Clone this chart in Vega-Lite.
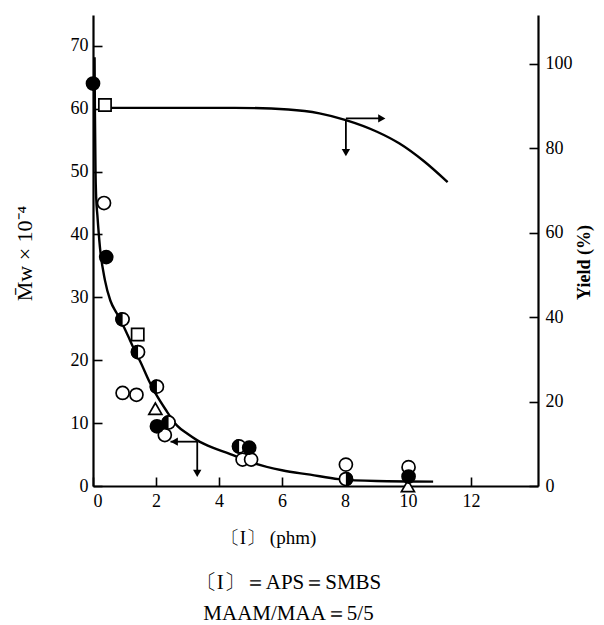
{
  "$schema": "https://vega.github.io/schema/vega-lite/v6.json",
  "autosize": "none",
  "width": 445,
  "height": 471,
  "padding": {"left": 93, "top": 15, "right": 66, "bottom": 139},
  "background": "white",
  "config": {
    "view": {"stroke": null},
    "axis": {
      "domainColor": "black", "domainWidth": 2.2, "tickColor": "black", "tickWidth": 1.6,
      "grid": false, "labelFont": "Liberation Serif", "labelFontSize": 18, "labelColor": "black",
      "titleFont": "Liberation Serif", "titleColor": "black", "titleFontWeight": "normal"
    }
  },
  "title": {
    "text": "〔I〕＝APS＝SMBS",
    "subtitle": "MAAM/MAA＝5/5",
    "orient": "bottom", "anchor": "middle", "frame": "group", "dx": -27, "offset": 25,
    "font": "Liberation Serif", "fontSize": 21, "fontWeight": "normal", "color": "black",
    "subtitleFont": "Liberation Serif", "subtitleFontSize": 21, "subtitleColor": "black", "subtitlePadding": 10
  },
  "datasets": {
    "mwCurve": [
      {"x": 0.05, "mw": 68.2}, {"x": 0.06, "mw": 60}, {"x": 0.08, "mw": 50}, {"x": 0.1, "mw": 46},
      {"x": 0.14, "mw": 43}, {"x": 0.22, "mw": 38}, {"x": 0.38, "mw": 32.7}, {"x": 0.55, "mw": 29.5},
      {"x": 0.75, "mw": 27.5}, {"x": 0.95, "mw": 25.6}, {"x": 1.1, "mw": 24}, {"x": 1.3, "mw": 21.8},
      {"x": 1.5, "mw": 19.8}, {"x": 1.8, "mw": 16.5}, {"x": 2.0, "mw": 14.6}, {"x": 2.3, "mw": 12.2},
      {"x": 2.67, "mw": 9.6}, {"x": 3.0, "mw": 8.3}, {"x": 3.3, "mw": 7.3}, {"x": 3.8, "mw": 6.1},
      {"x": 4.3, "mw": 5.2}, {"x": 5.0, "mw": 3.8}, {"x": 6.0, "mw": 2.5}, {"x": 6.9, "mw": 1.8},
      {"x": 7.8, "mw": 1.1}, {"x": 9.0, "mw": 0.8}, {"x": 10.8, "mw": 0.7}
    ],
    "yieldCurve": [
      {"x": 0.4, "yield": 89.6}, {"x": 4.5, "yield": 89.6}, {"x": 6.2, "yield": 89.2}, {"x": 7.19, "yield": 88.3},
      {"x": 8.03, "yield": 86.7}, {"x": 9.0, "yield": 84.0}, {"x": 9.72, "yield": 81.2}, {"x": 10.5, "yield": 77.0},
      {"x": 11.26, "yield": 72.0}
    ],
    "points": [
      {"x": 0.0, "mw": 64.0, "type": "filled"},
      {"x": 0.38, "mw": 60.6, "type": "square"},
      {"x": 0.35, "mw": 45.0, "type": "open"},
      {"x": 0.42, "mw": 36.4, "type": "filled"},
      {"x": 0.94, "mw": 26.5, "type": "half"},
      {"x": 1.42, "mw": 24.1, "type": "square"},
      {"x": 1.43, "mw": 21.3, "type": "half"},
      {"x": 0.94, "mw": 14.8, "type": "open"},
      {"x": 1.38, "mw": 14.5, "type": "open"},
      {"x": 2.03, "mw": 15.8, "type": "half"},
      {"x": 1.98, "mw": 12.3, "type": "triangle"},
      {"x": 2.28, "mw": 8.1, "type": "open"},
      {"x": 2.03, "mw": 9.5, "type": "filled"},
      {"x": 2.4, "mw": 10.1, "type": "half"},
      {"x": 4.75, "mw": 4.2, "type": "open"},
      {"x": 5.02, "mw": 4.2, "type": "open"},
      {"x": 4.64, "mw": 6.3, "type": "half"},
      {"x": 4.96, "mw": 6.1, "type": "filled"},
      {"x": 8.03, "mw": 3.4, "type": "open"},
      {"x": 8.03, "mw": 1.1, "type": "halfR"},
      {"x": 10.02, "mw": 3.0, "type": "open"},
      {"x": 10.02, "mw": 1.5, "type": "filled"},
      {"x": 10.0, "mw": 0.0, "type": "triangle"}
    ],
    "mwArrows": [
      {"x": 2.46, "mw": 7.05, "x2": 3.31, "mw2": 7.05},
      {"x": 3.31, "mw": 7.05, "x2": 3.31, "mw2": 2.2}
    ],
    "mwHeads": [
      {"x": 2.58, "mw": 7.05, "dir": "left"},
      {"x": 3.31, "mw": 2.0, "dir": "down"}
    ],
    "yieldArrows": [
      {"x": 8.03, "yield": 87.1, "x2": 9.1, "yield2": 87.1},
      {"x": 8.03, "yield": 86.7, "x2": 8.03, "yield2": 79.5}
    ],
    "yieldHeads": [
      {"x": 9.17, "yield": 87.1, "dir": "right"},
      {"x": 8.03, "yield": 79.0, "dir": "down"}
    ]
  },
  "layer": [
    {
      "layer": [
        {
          "data": {"name": "yieldCurve"},
          "mark": {"type": "line", "color": "black", "strokeWidth": 2.4, "interpolate": "monotone"},
          "encoding": {
            "x": {"field": "x", "type": "quantitative", "scale": {"domain": [0, 14.13], "nice": false},
                  "axis": {"values": [0, 2, 4, 6, 8, 10, 12], "tickSize": -9, "labelPadding": 15,
                           "title": "〔I〕 (phm)", "titleFontSize": 19, "titleX": 175, "titleY": 42}},
            "y": {"field": "yield", "type": "quantitative", "scale": {"domain": [0, 111.6], "nice": false},
                  "axis": {"orient": "right", "values": [0, 20, 40, 60, 80, 100], "tickSize": -9, "labelPadding": 16,
                           "title": "Yield (%)", "titleFontSize": 18, "titleFontWeight": "bold", "titleAngle": 270,
                           "titleX": 46, "titleY": 247, "titleAlign": "center", "titleBaseline": "middle"}}
          }
        },
        {
          "data": {"name": "yieldArrows"},
          "mark": {"type": "rule", "color": "black", "strokeWidth": 1.8},
          "encoding": {
            "x": {"field": "x", "type": "quantitative"},
            "y": {"field": "yield", "type": "quantitative"},
            "x2": {"field": "x2"},
            "y2": {"field": "yield2"}
          }
        },
        {
          "data": {"name": "yieldHeads"},
          "transform": [{"filter": "datum.dir === 'right'"}],
          "mark": {"type": "point", "shape": "triangle-right", "filled": true, "color": "black", "size": 70, "opacity": 1},
          "encoding": {
            "x": {"field": "x", "type": "quantitative"},
            "y": {"field": "yield", "type": "quantitative"}
          }
        },
        {
          "data": {"name": "yieldHeads"},
          "transform": [{"filter": "datum.dir === 'down'"}],
          "mark": {"type": "point", "shape": "triangle-down", "filled": true, "color": "black", "size": 70, "opacity": 1},
          "encoding": {
            "x": {"field": "x", "type": "quantitative"},
            "y": {"field": "yield", "type": "quantitative"}
          }
        }
      ]
    },
    {
      "layer": [
        {
          "data": {"name": "mwCurve"},
          "mark": {"type": "line", "color": "black", "strokeWidth": 2.4, "interpolate": "monotone"},
          "encoding": {
            "x": {"field": "x", "type": "quantitative"},
            "y": {"field": "mw", "type": "quantitative", "scale": {"domain": [0, 74.9], "nice": false},
                  "axis": {"orient": "left", "values": [0, 10, 20, 30, 40, 50, 60, 70], "tickSize": -9, "labelPadding": 14,
                           "title": "M\u0304w × 10\u207b\u2074", "titleFontSize": 22, "titleAngle": 270,
                           "titleX": -69, "titleY": 238, "titleAlign": "center", "titleBaseline": "middle"}}
          }
        },
        {
          "data": {"name": "mwArrows"},
          "mark": {"type": "rule", "color": "black", "strokeWidth": 1.8},
          "encoding": {
            "x": {"field": "x", "type": "quantitative"},
            "y": {"field": "mw", "type": "quantitative"},
            "x2": {"field": "x2"},
            "y2": {"field": "mw2"}
          }
        },
        {
          "data": {"name": "mwHeads"},
          "transform": [{"filter": "datum.dir === 'left'"}],
          "mark": {"type": "point", "shape": "triangle-left", "filled": true, "color": "black", "size": 70, "opacity": 1},
          "encoding": {
            "x": {"field": "x", "type": "quantitative"},
            "y": {"field": "mw", "type": "quantitative"}
          }
        },
        {
          "data": {"name": "mwHeads"},
          "transform": [{"filter": "datum.dir === 'down'"}],
          "mark": {"type": "point", "shape": "triangle-down", "filled": true, "color": "black", "size": 70, "opacity": 1},
          "encoding": {
            "x": {"field": "x", "type": "quantitative"},
            "y": {"field": "mw", "type": "quantitative"}
          }
        },
        {
          "data": {"name": "points"},
          "transform": [{"filter": "datum.type === 'open' || datum.type === 'half' || datum.type === 'halfR'"}],
          "mark": {"type": "point", "shape": "circle", "fill": "white", "stroke": "black", "strokeWidth": 1.7, "size": 170, "opacity": 1},
          "encoding": {
            "x": {"field": "x", "type": "quantitative"},
            "y": {"field": "mw", "type": "quantitative"}
          }
        },
        {
          "data": {"name": "points"},
          "transform": [{"filter": "datum.type === 'square'"}],
          "mark": {"type": "point", "shape": "square", "fill": "white", "stroke": "black", "strokeWidth": 1.7, "size": 150, "opacity": 1},
          "encoding": {
            "x": {"field": "x", "type": "quantitative"},
            "y": {"field": "mw", "type": "quantitative"}
          }
        },
        {
          "data": {"name": "points"},
          "transform": [{"filter": "datum.type === 'triangle'"}],
          "mark": {"type": "point", "shape": "triangle-up", "fill": "white", "stroke": "black", "strokeWidth": 1.7, "size": 170, "opacity": 1},
          "encoding": {
            "x": {"field": "x", "type": "quantitative"},
            "y": {"field": "mw", "type": "quantitative"}
          }
        },
        {
          "data": {"name": "points"},
          "transform": [{"filter": "datum.type === 'half'"}],
          "mark": {"type": "point", "shape": "M0,-1A1,1,0,0,0,0,1Z", "filled": true, "color": "black", "size": 216, "opacity": 1},
          "encoding": {
            "x": {"field": "x", "type": "quantitative"},
            "y": {"field": "mw", "type": "quantitative"}
          }
        },
        {
          "data": {"name": "points"},
          "transform": [{"filter": "datum.type === 'halfR'"}],
          "mark": {"type": "point", "shape": "M0,-1A1,1,0,0,1,0,1Z", "filled": true, "color": "black", "size": 216, "opacity": 1},
          "encoding": {
            "x": {"field": "x", "type": "quantitative"},
            "y": {"field": "mw", "type": "quantitative"}
          }
        },
        {
          "data": {"name": "points"},
          "transform": [{"filter": "datum.type === 'filled'"}],
          "mark": {"type": "point", "shape": "circle", "fill": "black", "stroke": "black", "strokeWidth": 1.7, "size": 170, "opacity": 1},
          "encoding": {
            "x": {"field": "x", "type": "quantitative"},
            "y": {"field": "mw", "type": "quantitative"}
          }
        }
      ]
    }
  ],
  "resolve": {"scale": {"y": "independent"}}
}
